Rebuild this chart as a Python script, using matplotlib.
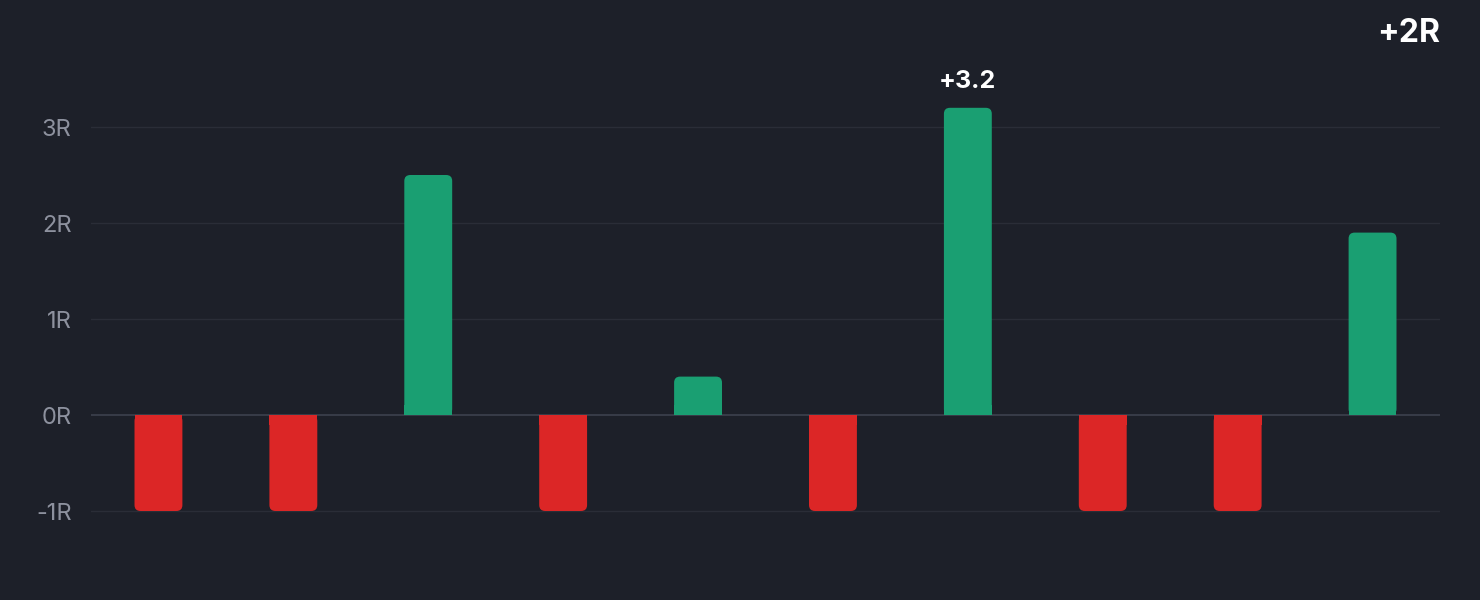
import matplotlib
matplotlib.use("Agg")
from matplotlib import pyplot as plt
from matplotlib.patches import FancyBboxPatch, Rectangle

# trade results in R multiples
trades = list(range(1, 11))
r_values = [-1, -1, 2.5, -1, 0.4, -1, 3.2, -1, -1, 1.9]
y_ticks = [-1, 0, 1, 2, 3]
y_tick_labels = ["-1R", "0R", "1R", "2R", "3R"]

bg = "#1d2029"
green = "#1a9f72"
red = "#dc2626"

plt.rcParams['font.family'] = ['Inter', 'DejaVu Sans']

W, H = 1480, 600
fig = plt.figure(figsize=(W / 100, H / 100), dpi=100, facecolor=bg)

# axes placed so 0R sits at y=415px and 1R = 96px
ylo, yhi = -1.5, 3.5
top_px = 415 - yhi * 96
bot_px = 415 - ylo * 96
left_px, right_px = 91, 1440
ax = fig.add_axes([left_px / W, (H - bot_px) / H, (right_px - left_px) / W, (bot_px - top_px) / H])
ax.set_facecolor(bg)
ax.set_xlim(0.5, 10.5)
ax.set_ylim(ylo, yhi)

for s in ax.spines.values():
    s.set_visible(False)

ax.set_yticks(y_ticks)
ax.set_yticklabels(y_tick_labels)
ax.tick_params(axis='y', length=0, pad=14, labelsize=17, labelcolor="#8d919e")
ax.set_xticks([])
for t in y_ticks:
    ax.axhline(t, color="#3a3e4b" if t == 0 else "#2a2d37", lw=1.3 if t == 0 else 1.0, zorder=1)

colors = [green if v > 0 else red for v in r_values]
bars = ax.bar(trades, r_values, width=0.355, color=colors, zorder=2)

# rounded outer corners
px_x = (right_px - left_px) / 10.0
px_y = 96.0
aspect = (1 / px_y) / (1 / px_x)
rad = 6 / px_x
for b, c in zip(bars, colors):
    x0, w = b.get_x(), b.get_width()
    y0, h = b.get_y(), b.get_height()
    b.set_visible(False)
    yb, yt = min(y0, y0 + h), max(y0, y0 + h)
    ax.add_patch(FancyBboxPatch((x0, yb), w, yt - yb,
                                boxstyle=f"round,pad=0,rounding_size={rad}",
                                mutation_aspect=aspect, fc=c, ec="none", zorder=3))
    # square off the end that touches zero
    sq = min(0.1, (yt - yb) / 2)
    if yt > 0:
        ax.add_patch(Rectangle((x0, 0), w, sq, fc=c, ec="none", zorder=3))
    else:
        ax.add_patch(Rectangle((x0, -sq), w, sq, fc=c, ec="none", zorder=3))

best = max(range(len(r_values)), key=lambda i: r_values[i])
ax.annotate(f"+{r_values[best]:.1f}", (trades[best], r_values[best]),
            xytext=(0, 11), textcoords="offset points", ha="center", va="bottom",
            color="white", fontsize=18, fontweight="bold")

total = sum(r_values)
fig.text(1440 / W, 1 - 33 / H, f"+{total:.0f}R", ha="right", va="center",
         color="white", fontsize=23, fontweight="bold")

fig.savefig("out.png", dpi=100, facecolor=bg)
